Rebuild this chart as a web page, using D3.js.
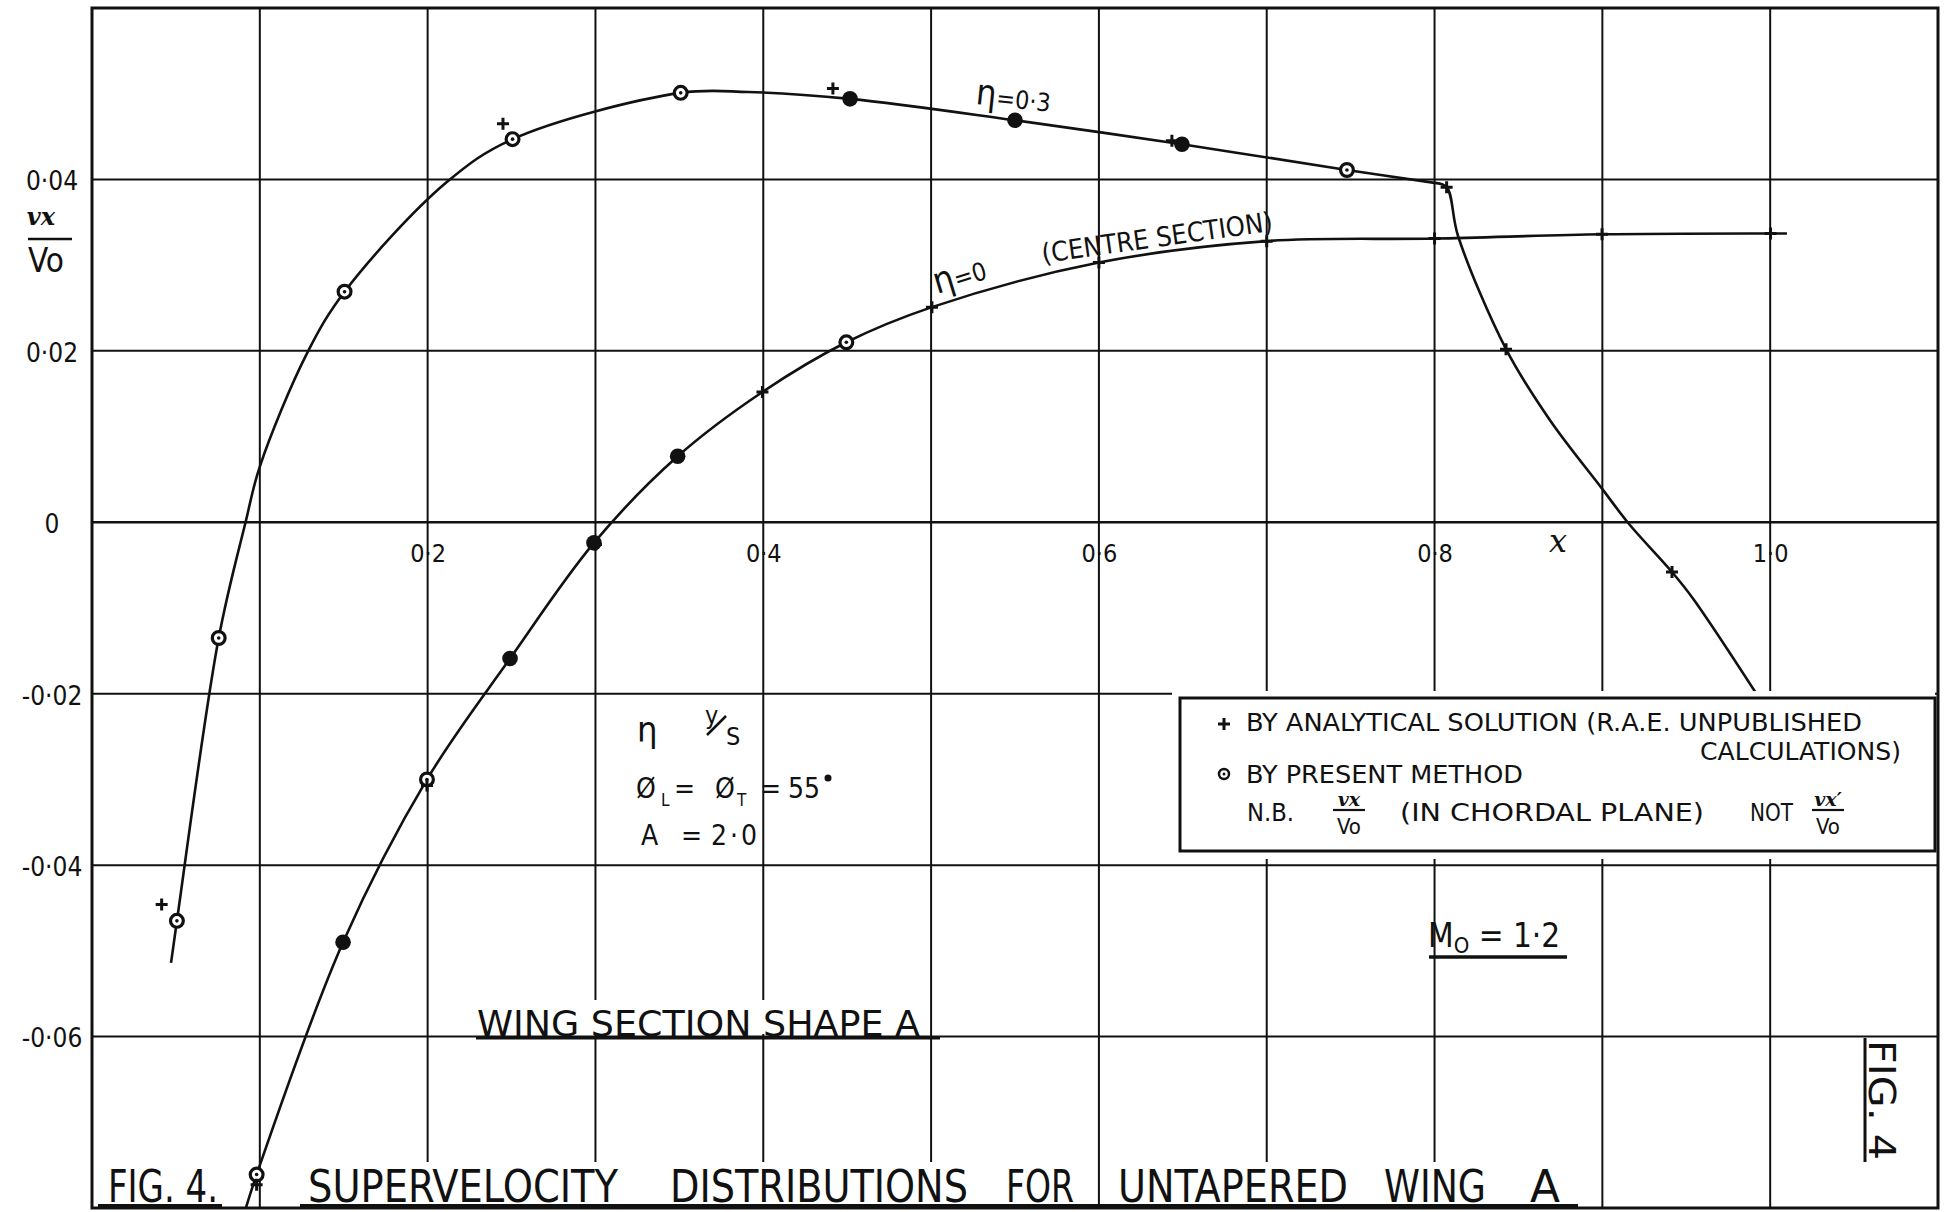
<!DOCTYPE html>
<html>
<head>
<meta charset="utf-8">
<script src="https://cdn.jsdelivr.net/npm/d3@7"></script>
<style>
  html, body { margin: 0; padding: 0; background: #fff; }
  svg { display: block; }
  text { font-family: 'DejaVu Sans Condensed', 'DejaVu Sans', sans-serif; fill: #111; }
</style>
</head>
<body>
<svg id="chart" width="1953" height="1212"></svg>
<script>
// tick labels and grid
const xTicks = [0.2, 0.4, 0.6, 0.8, 1.0];
const yTicks = [-0.06, -0.04, -0.02, 0, 0.02, 0.04];
const xGrid = [0.1, 0.2, 0.3, 0.4, 0.5, 0.6, 0.7, 0.8, 0.9, 1.0];
const yGrid = [-0.06, -0.04, -0.02, 0, 0.02, 0.04];

// eta = 0.3, faired curve up to the kink at x = 0.8
const eta03X = [0.0471, 0.0506, 0.0755, 0.0915, 0.1000, 0.1281, 0.1505, 0.2109, 0.2506, 0.3508, 0.3909, 0.4517, 0.5500, 0.6495, 0.7478, 0.8000];
const eta03Y = [-0.0514, -0.0465, -0.0135, 0.0000, 0.0065, 0.0197, 0.0269, 0.0396, 0.0447, 0.0501, 0.0502, 0.0494, 0.0469, 0.0441, 0.0411, 0.0396];
// eta = 0.3, after the kink
const eta03TailX = [0.8000, 0.8072, 0.8140, 0.8426, 0.8688, 0.8999, 0.9159, 0.9415, 0.9544, 0.9928];
const eta03TailY = [0.0396, 0.0391, 0.0334, 0.0202, 0.0119, 0.0039, -0.0002, -0.0058, -0.0090, -0.0203];
// eta = 0 (centre section)
const eta0X = [0.0909, 0.0981, 0.1496, 0.1996, 0.2491, 0.2991, 0.3490, 0.3995, 0.4495, 0.5005, 0.6000, 0.7000, 0.8000, 0.8998, 1.0002, 1.0100];
const eta0Y = [-0.0805, -0.0761, -0.0490, -0.0300, -0.0159, -0.0024, 0.0077, 0.0152, 0.0210, 0.0251, 0.0303, 0.0328, 0.0331, 0.0336, 0.0337, 0.0337];

// present method (circles), solid dots, analytical solution (+)
const eta03CircleX = [0.0506, 0.0755, 0.1505, 0.2506, 0.3508, 0.7478];
const eta03CircleY = [-0.0465, -0.0135, 0.0269, 0.0447, 0.0501, 0.0411];
const eta03DotX = [0.4517, 0.5500, 0.6495];
const eta03DotY = [0.0494, 0.0469, 0.0441];
const eta03PlusX = [0.0415, 0.2449, 0.4415, 0.6435, 0.8072, 0.8426, 0.9415];
const eta03PlusY = [-0.0446, 0.0465, 0.0506, 0.0445, 0.0391, 0.0202, -0.0058];

const eta0CircleX = [0.0981, 0.1996, 0.4495];
const eta0CircleY = [-0.0761, -0.0300, 0.0210];
const eta0DotX = [0.1496, 0.2491, 0.2991, 0.3490];
const eta0DotY = [-0.0490, -0.0159, -0.0024, 0.0077];
const eta0PlusX = [0.0981, 0.1996, 0.3003, 0.3995, 0.5005, 0.6000, 0.7000, 0.8000, 0.8998, 1.0002];
const eta0PlusY = [-0.0773, -0.0307, -0.0026, 0.0152, 0.0251, 0.0303, 0.0328, 0.0331, 0.0336, 0.0337];

const titleWords = ['FIG. 4.', 'SUPERVELOCITY', 'DISTRIBUTIONS', 'FOR', 'UNTAPERED', 'WING', 'A'];
const titleSpans = [[108, 218], [308, 618], [670, 968], [1006, 1074], [1118, 1348], [1384, 1486], [1530, 1560]];

const W = 1953, H = 1212;
const ink = '#111';
const zip = (a, b) => a.map((v, i) => [v, b[i]]);

const svg = d3.select('#chart');
svg.append('rect').attr('width', W).attr('height', H).attr('fill', '#fff');

const x = d3.scaleLinear().domain([0, 1.1]).range([92, 1938]);
const y = d3.scaleLinear().domain([-0.08, 0.06]).range([1208, 8]);

svg.append('clipPath').attr('id', 'plot')
  .append('rect')
  .attr('x', x(0)).attr('y', y(0.06))
  .attr('width', x(1.1) - x(0)).attr('height', y(-0.08) - y(0.06));

// grid
const grid = svg.append('g').attr('stroke', ink).attr('stroke-width', 2);
grid.selectAll('.vg').data(xGrid).enter().append('line')
  .attr('class', 'vg')
  .attr('x1', d => x(d)).attr('x2', d => x(d))
  .attr('y1', y(0.06)).attr('y2', y(-0.08));
grid.selectAll('.hg').data(yGrid).enter().append('line')
  .attr('class', 'hg')
  .attr('x1', x(0)).attr('x2', x(1.1))
  .attr('y1', d => y(d)).attr('y2', d => y(d))
  .attr('stroke-width', d => d === 0 ? 2.6 : 2);

// tick labels
const fmtY = d => d === 0 ? '0' : d3.format('.2f')(d).replace('.', '·').replace('−', '-');
const fmtX = d => d3.format('.1f')(d).replace('.', '·');

const yAxis = svg.append('g')
  .attr('transform', 'translate(52,0)')
  .call(d3.axisLeft(y).tickValues(yTicks).tickSize(0).tickPadding(0).tickFormat(fmtY));
yAxis.select('.domain').remove();
yAxis.selectAll('text')
  .attr('x', 0).attr('dy', '0.4em')
  .attr('text-anchor', 'middle')
  .style('font-size', '26px');

const xAxis = svg.append('g')
  .attr('transform', 'translate(0,' + y(0) + ')')
  .call(d3.axisBottom(x).tickValues(xTicks).tickSize(0).tickPadding(22).tickFormat(fmtX));
xAxis.select('.domain').remove();
xAxis.selectAll('text').style('font-size', '25px');

// axis titles
svg.append('text').attr('x', 1558).attr('y', 552).attr('text-anchor', 'middle')
  .style('font-family', 'DejaVu Serif').style('font-style', 'italic').style('font-size', '32px').text('x');

const yl = svg.append('g');
yl.append('text').attr('x', 41).attr('y', 225).attr('text-anchor', 'middle')
  .style('font-family', 'DejaVu Serif').style('font-style', 'italic').style('font-weight', 'bold')
  .style('font-size', '24px').text('vx');
yl.append('line').attr('x1', 28).attr('x2', 72).attr('y1', 239).attr('y2', 239)
  .attr('stroke', ink).attr('stroke-width', 2.5);
yl.append('text').attr('x', 46).attr('y', 272).attr('text-anchor', 'middle')
  .style('font-size', '33px').text('Vo');

// curves
const line = d3.line().x(d => x(d[0])).y(d => y(d[1])).curve(d3.curveCatmullRom.alpha(0.5));
const curves = svg.append('g').attr('clip-path', 'url(#plot)')
  .attr('fill', 'none').attr('stroke', ink).attr('stroke-width', 2.6);
curves.append('path').attr('d', line(zip(eta03X, eta03Y)));
curves.append('path').attr('d', line(zip(eta03TailX, eta03TailY)));
curves.append('path').attr('d', line(zip(eta0X, eta0Y)));

// markers
const marks = svg.append('g').attr('clip-path', 'url(#plot)');
function circles(xs, ys) {
  const g = marks.append('g').selectAll('g').data(zip(xs, ys)).enter().append('g')
    .attr('transform', d => 'translate(' + x(d[0]) + ',' + y(d[1]) + ')');
  g.append('circle').attr('r', 6.4).attr('fill', '#fff').attr('stroke', ink).attr('stroke-width', 3.2);
  g.append('circle').attr('r', 1.8).attr('fill', ink);
}
function dots(xs, ys) {
  marks.append('g').selectAll('circle').data(zip(xs, ys)).enter().append('circle')
    .attr('cx', d => x(d[0])).attr('cy', d => y(d[1])).attr('r', 7.8).attr('fill', ink);
}
function pluses(xs, ys) {
  marks.append('g').selectAll('path').data(zip(xs, ys)).enter().append('path')
    .attr('d', d => 'M' + (x(d[0]) - 6) + ',' + y(d[1]) + 'h12M' + x(d[0]) + ',' + (y(d[1]) - 6) + 'v12')
    .attr('stroke', ink).attr('stroke-width', 3);
}
circles(eta03CircleX, eta03CircleY);
dots(eta03DotX, eta03DotY);
pluses(eta03PlusX, eta03PlusY);
circles(eta0CircleX, eta0CircleY);
dots(eta0DotX, eta0DotY);
pluses(eta0PlusX, eta0PlusY);

// curve labels
const t03 = svg.append('text').attr('transform', 'translate(975,104) rotate(6)');
t03.append('tspan').style('font-size', '36px').text('η');
t03.append('tspan').style('font-size', '25px').text('=0·3');

const t0 = svg.append('text').attr('transform', 'translate(937,294) rotate(-17)');
t0.append('tspan').style('font-size', '36px').text('η');
t0.append('tspan').style('font-size', '25px').text('=0');

svg.append('text').attr('transform', 'translate(1043,263) rotate(-8)')
  .attr('textLength', 233).attr('lengthAdjust', 'spacingAndGlyphs')
  .style('font-size', '27px').text('(CENTRE SECTION)');

// wing data
svg.append('text').attr('x', 637).attr('y', 742).style('font-size', '36px').text('η');
svg.append('text').attr('x', 705).attr('y', 724).style('font-size', '25px').text('y');
svg.append('line').attr('x1', 707).attr('y1', 735).attr('x2', 726).attr('y2', 716)
  .attr('stroke', ink).attr('stroke-width', 2.5);
svg.append('text').attr('x', 726).attr('y', 745).style('font-size', '25px').text('S');

const small = (txt, x0, yb, size) => svg.append('text').attr('x', x0).attr('y', yb)
  .style('font-size', size + 'px').text(txt);
small('Ø', 636, 798, 28);
small('L', 661, 806, 17);
small('=', 674, 798, 28);
small('Ø', 715, 798, 28);
small('T', 737, 806, 17);
small('=', 760, 798, 28);
small('55', 788, 798, 28);
svg.append('circle').attr('cx', 828).attr('cy', 778).attr('r', 3.5).attr('fill', ink);

small('A', 641, 845, 28);
small('=', 681, 845, 28);
svg.append('text').attr('x', 711).attr('y', 845).attr('textLength', 46)
  .attr('lengthAdjust', 'spacing').style('font-size', '28px').text('2·0');

// wing section note
svg.append('rect').attr('x', 470).attr('y', 1000).attr('width', 456).attr('height', 34).attr('fill', '#fff');
svg.append('text').attr('x', 477).attr('y', 1036).attr('textLength', 443)
  .attr('lengthAdjust', 'spacingAndGlyphs').style('font-size', '36px').text('WING SECTION SHAPE A');
svg.append('line').attr('x1', 476).attr('x2', 940).attr('y1', 1038).attr('y2', 1038)
  .attr('stroke', ink).attr('stroke-width', 3);

// Mach number
const mo = svg.append('text').attr('x', 1428).attr('y', 947).style('font-size', '33px');
mo.append('tspan').text('M');
mo.append('tspan').attr('dy', 6).style('font-size', '22px').text('O');
mo.append('tspan').attr('dy', -6).text(' = 1·2');
svg.append('line').attr('x1', 1429).attr('x2', 1567).attr('y1', 957).attr('y2', 957)
  .attr('stroke', ink).attr('stroke-width', 3.5);

// rotated figure number at right
svg.append('text').attr('transform', 'translate(1869,1040) rotate(90)')
  .attr('textLength', 120).attr('lengthAdjust', 'spacingAndGlyphs')
  .style('font-size', '37px').text('FIG. 4');
svg.append('line').attr('x1', 1865).attr('x2', 1865).attr('y1', 1038).attr('y2', 1162)
  .attr('stroke', ink).attr('stroke-width', 3);

// title along the bottom
const title = svg.append('g');
titleWords.forEach((w, i) => {
  const [a, b] = titleSpans[i];
  title.append('rect').attr('x', a - 5).attr('y', 1162).attr('width', b - a + 10).attr('height', 42).attr('fill', '#fff');
  title.append('text').attr('x', a).attr('y', 1202).attr('textLength', b - a)
    .attr('lengthAdjust', 'spacingAndGlyphs').style('font-size', '44px').text(w);
});
title.append('line').attr('x1', 98).attr('x2', 222).attr('y1', 1206).attr('y2', 1206)
  .attr('stroke', ink).attr('stroke-width', 4);
title.append('line').attr('x1', 300).attr('x2', 1578).attr('y1', 1206).attr('y2', 1206)
  .attr('stroke', ink).attr('stroke-width', 4);

// legend
const lg = svg.append('g');
lg.append('rect').attr('x', 1172).attr('y', 691).attr('width', 763).attr('height', 168).attr('fill', '#fff');
lg.append('rect').attr('x', 1180).attr('y', 698).attr('width', 755).attr('height', 153)
  .attr('fill', '#fff').attr('stroke', ink).attr('stroke-width', 3);
lg.append('path').attr('d', 'M1218,724h12M1224,718v12').attr('stroke', ink).attr('stroke-width', 3);
lg.append('circle').attr('cx', 1224).attr('cy', 774).attr('r', 5).attr('fill', 'none').attr('stroke', ink).attr('stroke-width', 2.5);
lg.append('circle').attr('cx', 1224).attr('cy', 774).attr('r', 1.5).attr('fill', ink);
const legendLine = (txt, x0, x1, yb) => lg.append('text').attr('x', x0).attr('y', yb)
  .attr('textLength', x1 - x0).attr('lengthAdjust', 'spacingAndGlyphs')
  .style('font-size', '25px').text(txt);
legendLine('BY ANALYTICAL SOLUTION (R.A.E. UNPUBLISHED', 1246, 1862, 731);
legendLine('CALCULATIONS)', 1700, 1901, 760);
legendLine('BY PRESENT METHOD', 1246, 1523, 783);
legendLine('N.B.', 1247, 1294, 821);
legendLine('(IN CHORDAL PLANE)', 1400, 1704, 821);
legendLine('NOT', 1750, 1793, 821);
function frac(cx, prime) {
  lg.append('text').attr('x', cx).attr('y', 806).attr('text-anchor', 'middle')
    .style('font-family', 'DejaVu Serif').style('font-style', 'italic').style('font-weight', 'bold')
    .style('font-size', '19px').text(prime ? 'vx′' : 'vx');
  lg.append('line').attr('x1', cx - 16).attr('x2', cx + 16).attr('y1', 810).attr('y2', 810)
    .attr('stroke', ink).attr('stroke-width', 2.2);
  lg.append('text').attr('x', cx).attr('y', 834).attr('text-anchor', 'middle')
    .style('font-size', '22px').text('Vo');
}
frac(1349, false);
frac(1828, true);

// frame on top
svg.append('rect')
  .attr('x', x(0)).attr('y', y(0.06))
  .attr('width', x(1.1) - x(0)).attr('height', y(-0.08) - y(0.06))
  .attr('fill', 'none').attr('stroke', ink).attr('stroke-width', 3);
</script>
</body>
</html>
